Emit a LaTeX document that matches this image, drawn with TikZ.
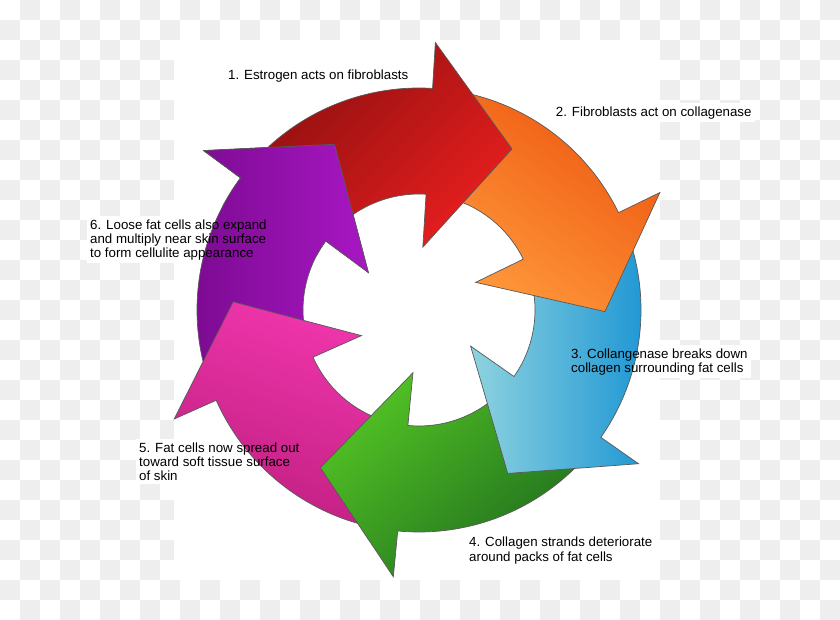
\documentclass[tikz,border=0pt]{standalone}
\usepackage{fontspec}
\setmainfont{Liberation Sans}
\usetikzlibrary{calc}
\pgfdeclarelayer{bg}
\pgfsetlayers{bg,main}
\definecolor{chk}{HTML}{EEEEEE}
\definecolor{redA}{HTML}{8C0F0F}
\definecolor{redB}{HTML}{E61E1E}
\definecolor{orA}{HTML}{EE5710}
\definecolor{orB}{HTML}{FF9A3C}
\definecolor{blA}{HTML}{8ED3DF}
\definecolor{blB}{HTML}{1A94D3}
\definecolor{grA}{HTML}{52C224}
\definecolor{grB}{HTML}{1E6B1E}
\definecolor{pkA}{HTML}{F236AE}
\definecolor{pkB}{HTML}{BE1F7F}
\definecolor{puA}{HTML}{7A0A90}
\definecolor{puB}{HTML}{A817C3}
% #1 = start angle of the band, #2 = angle of the arrow-head base
\newcommand\cyclearrow[2]{($(O)+(#1:222pt)$) arc[start angle=#1, end angle=#2, radius=222pt]
  -- ($(O)+(#2:268pt)$) -- ($(O)+(#2-26.5:186pt)$) -- ($(O)+(#2:63pt)$)
  -- ($(O)+(#2:116pt)$) arc[start angle=#2, end angle=#1, radius=116pt] -- cycle}
\begin{document}
\begin{tikzpicture}[x=1pt,y=1pt,
  arrowline/.style={draw=black!65, line width=0.7pt},
  lbl/.style={anchor=north west, inner sep=0pt, align=left, font=\fontsize{13.3}{14.2}\selectfont}]
\useasboundingbox (0,0) rectangle (840,620);
\coordinate (O) at (419,310);
% arrows
\path[arrowline, left color=puA, right color=puB] \cyclearrow{-156}{-216.5};
\path[arrowline, top color=pkA, bottom color=pkB, shading angle=-20] \cyclearrow{-95.5}{-156};
\path[arrowline, top color=grA, bottom color=grB, shading angle=40] \cyclearrow{-35}{-95.5};
\path[arrowline, left color=blA, right color=blB] \cyclearrow{26}{-35};
\path[arrowline, top color=orA, bottom color=orB, shading angle=-35] \cyclearrow{86.5}{26};
\path[arrowline, top color=redA, bottom color=redB, shading angle=45] \cyclearrow{143.5}{86.5};
\begin{scope}
  \clip (O) -- ($(O)+(100:400pt)$) -- ($(O)+(125:400pt)$) -- ($(O)+(152:400pt)$) -- cycle;
  \path[arrowline, left color=puA, right color=puB] \cyclearrow{-156}{-216.5};
\end{scope}
% labels
\node[lbl] (t1) at (228,550.4) {1. Estrogen acts on fibroblasts};
\node[lbl] (t2) at (555.7,513.7) {2. Fibroblasts act on collagenase};
\node[lbl] (t3) at (571,271.7) {3. Collangenase breaks down\\collagen surrounding fat cells};
\node[lbl] (t4) at (469,83) {4. Collagen strands deteriorate\\around packs of fat cells};
\node[lbl] (t5) at (139,177.7) {5. Fat cells now spread out\\toward soft tissue surface\\of skin};
\node[lbl] (t6) at (90,400.7) {6. Loose fat cells also expand\\and multiply near skin surface\\to form cellulite appearance};
% background
\begin{pgfonlayer}{bg}
\fill[white] (0,0) rectangle (840,620);
\foreach \i in {1,3,...,41} \foreach \j in {0,2,...,30} \fill[chk] (20*\i,600-20*\j) rectangle ++(20,20);
\foreach \i in {0,2,...,40} \foreach \j in {1,3,...,29} \fill[chk] (20*\i,600-20*\j) rectangle ++(20,20);
\fill[white] (174,40) rectangle (660,580);
\foreach \t in {t1,t2,t3,t4,t5,t6} \fill[white] ($(\t.south west)+(-3,-3)$) rectangle ($(\t.north east)+(3,3)$);
\end{pgfonlayer}
\end{tikzpicture}
\end{document}
